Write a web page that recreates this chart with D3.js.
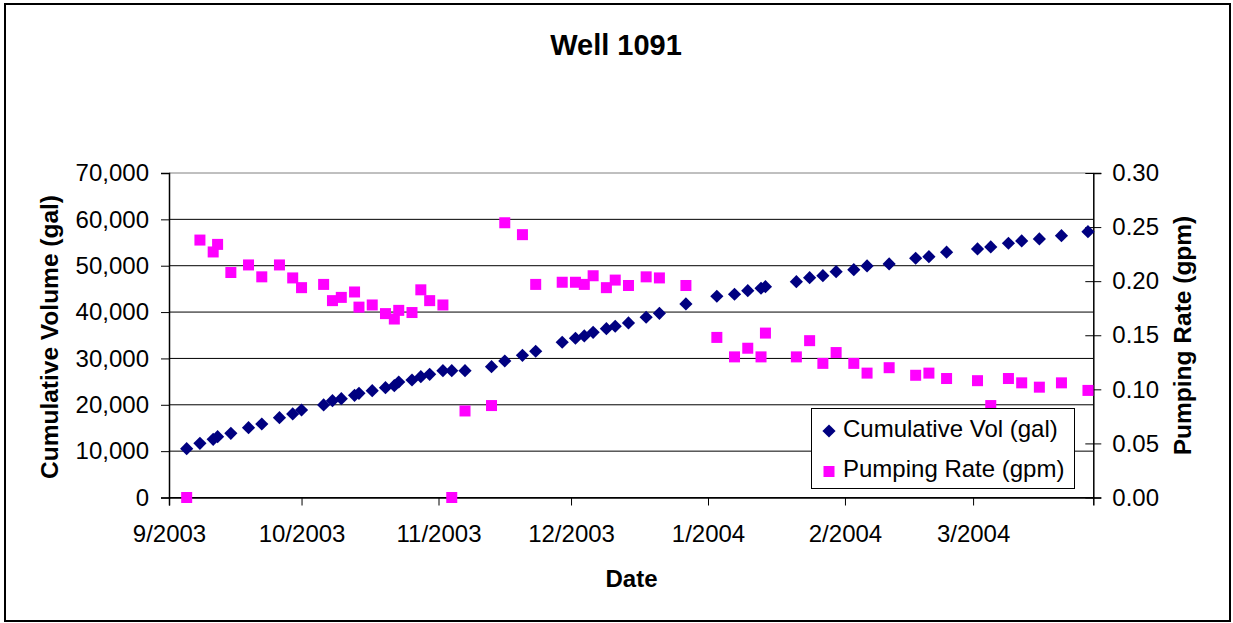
<!DOCTYPE html>
<html>
<head>
<meta charset="utf-8">
<script src="https://cdn.jsdelivr.net/npm/d3@7"></script>
<style>
  body { margin: 0; background: #fff; }
  svg { display: block; font-family: "Liberation Sans", Arial, sans-serif; }
</style>
</head>
<body>
<div id="chart"></div>
<script>
// Sample dates (shared by both series)
const dates = [
  '2003-09-05', '2003-09-08', '2003-09-11', '2003-09-12', '2003-09-15', '2003-09-19',
  '2003-09-22', '2003-09-26', '2003-09-29', '2003-10-01', '2003-10-06', '2003-10-08',
  '2003-10-10', '2003-10-13', '2003-10-14', '2003-10-17', '2003-10-20', '2003-10-22',
  '2003-10-23', '2003-10-26', '2003-10-28', '2003-10-30', '2003-11-02', '2003-11-04',
  '2003-11-07', '2003-11-13', '2003-11-16', '2003-11-20', '2003-11-23', '2003-11-29',
  '2003-12-02', '2003-12-04', '2003-12-06', '2003-12-09', '2003-12-11', '2003-12-14',
  '2003-12-18', '2003-12-21', '2003-12-27', '2004-01-03', '2004-01-07', '2004-01-10',
  '2004-01-13', '2004-01-14', '2004-01-21', '2004-01-24', '2004-01-27', '2004-01-30',
  '2004-02-03', '2004-02-06', '2004-02-11', '2004-02-17', '2004-02-20', '2004-02-24',
  '2004-03-02', '2004-03-05', '2004-03-09', '2004-03-12', '2004-03-16', '2004-03-21',
  '2004-03-27'
];

// Cumulative Vol (gal)
const cumulativeVol = [
  10530, 11690, 12560, 13120, 13850, 15060, 15860, 17220, 18020, 18880, 19960, 20890,
  21320, 22050, 22480, 23040, 23690, 24120, 24920, 25350, 26070, 26580, 27360, 27360,
  27360, 28220, 29450, 30680, 31550, 33490, 34350, 34850, 35640, 36420, 36940, 37650,
  38880, 39740, 41750, 43410, 43840, 44620, 45140, 45480, 46560, 47430, 47860, 48720,
  49150, 49950, 50380, 51610, 51960, 52910, 53620, 54050, 54850, 55350, 55780, 56490,
  57350
];

// Pumping Rate (gpm)
const pumpingRate = [
  0.000, 0.238, 0.227, 0.234, 0.208, 0.215, 0.204, 0.215, 0.203, 0.194, 0.197, 0.182,
  0.185, 0.190, 0.176, 0.178, 0.170, 0.165, 0.173, 0.171, 0.192, 0.182, 0.178, 0.000,
  0.080, 0.085, 0.254, 0.243, 0.197, 0.199, 0.199, 0.197, 0.205, 0.194, 0.201, 0.196,
  0.204, 0.203, 0.196, 0.148, 0.130, 0.138, 0.130, 0.152, 0.130, 0.145, 0.124, 0.134,
  0.124, 0.115, 0.120, 0.113, 0.115, 0.110, 0.108, 0.085, 0.110, 0.106, 0.102, 0.106,
  0.099
];

const xTicks = ['2003-09-01', '2003-10-01', '2003-11-01', '2003-12-01', '2004-01-01', '2004-02-01', '2004-03-01'];
const volTicks = [0, 10000, 20000, 30000, 40000, 50000, 60000, 70000];
const rateTicks = [0, 0.05, 0.10, 0.15, 0.20, 0.25, 0.30];
const seriesNames = ['Cumulative Vol (gal)', 'Pumping Rate (gpm)'];

const width = 1233, height = 623;
const margin = { top: 173, right: 139.7, bottom: 125.5, left: 169 };
const innerW = width - margin.left - margin.right;
const innerH = height - margin.top - margin.bottom;

const parse = d3.utcParse('%Y-%m-%d');
const rows = dates.map((d, i) => ({ date: parse(d), vol: cumulativeVol[i], rate: pumpingRate[i] }));

const x = d3.scaleUtc()
  .domain([parse('2003-09-01'), new Date(Date.UTC(2004, 2, 28, 5))])
  .range([0, innerW]);
const yVol = d3.scaleLinear().domain([0, 70000]).range([innerH, 0]);
const yRate = d3.scaleLinear().domain([0, 0.30]).range([innerH, 0]);

const svg = d3.select('#chart').append('svg')
  .attr('width', width)
  .attr('height', height);

// outer frame
svg.append('rect')
  .attr('x', 5).attr('y', 4)
  .attr('width', 1225).attr('height', 617)
  .attr('fill', '#fff')
  .attr('stroke', '#000')
  .attr('stroke-width', 2);

svg.append('text')
  .attr('x', 616).attr('y', 55)
  .attr('text-anchor', 'middle')
  .style('font-size', '29px').style('font-weight', 'bold')
  .text('Well 1091');

const plot = svg.append('g')
  .attr('transform', `translate(${margin.left},${margin.top})`);

// gridlines
plot.append('g')
  .selectAll('line')
  .data(volTicks)
  .join('line')
  .attr('x1', 0).attr('x2', innerW)
  .attr('y1', d => yVol(d)).attr('y2', d => yVol(d))
  .attr('stroke', d => d === 70000 ? '#808080' : '#000')
  .attr('stroke-width', 1);

// left axis
const leftAxis = plot.append('g')
  .call(d3.axisLeft(yVol).tickValues(volTicks).tickSize(8).tickPadding(12).tickFormat(d3.format(',')));

// right axis, ticks cross the line
const rightAxis = plot.append('g')
  .attr('transform', `translate(${innerW},0)`)
  .call(d3.axisRight(yRate).tickValues(rateTicks).tickSize(8).tickPadding(11).tickFormat(d3.format('.2f')));
rightAxis.selectAll('.tick line').attr('x1', -8);

// bottom axis
const bottomAxis = plot.append('g')
  .attr('transform', `translate(0,${innerH})`)
  .call(d3.axisBottom(x).tickValues(xTicks.map(parse)).tickSize(8).tickPadding(19.5).tickFormat(d3.utcFormat('%-m/%Y')));

[leftAxis, rightAxis, bottomAxis].forEach(a => {
  a.selectAll('path.domain').attr('stroke', '#000').attr('stroke-width', 1.5);
  a.selectAll('.tick line').attr('stroke', '#000');
  a.selectAll('text').attr('fill', '#000').style('font-size', '24px').style('font-family', '"Liberation Sans", Arial, sans-serif');
});

// axis titles
svg.append('text')
  .attr('transform', 'translate(58,337) rotate(-90)')
  .attr('text-anchor', 'middle')
  .style('font-size', '24.5px').style('font-weight', 'bold')
  .text('Cumulative Volume (gal)');

svg.append('text')
  .attr('transform', 'translate(1191,335.5) rotate(-90)')
  .attr('text-anchor', 'middle')
  .style('font-size', '24.5px').style('font-weight', 'bold')
  .text('Pumping Rate (gpm)');

svg.append('text')
  .attr('x', 631.5).attr('y', 586.5)
  .attr('text-anchor', 'middle')
  .style('font-size', '24px').style('font-weight', 'bold')
  .text('Date');

// markers
const diamond = 'M0,-6.6L6.6,0L0,6.6L-6.6,0Z';
const sq = 11;

plot.append('g')
  .selectAll('path')
  .data(rows)
  .join('path')
  .attr('d', diamond)
  .attr('transform', d => `translate(${x(d.date)},${yVol(d.vol)})`)
  .attr('fill', '#000080');

plot.append('g')
  .selectAll('rect')
  .data(rows)
  .join('rect')
  .attr('x', d => x(d.date) - sq / 2)
  .attr('y', d => yRate(d.rate) - sq / 2)
  .attr('width', sq).attr('height', sq)
  .attr('fill', '#ff00ff');

// legend
const legend = svg.append('g').attr('transform', 'translate(811.5,408.5)');
legend.append('rect')
  .attr('width', 263).attr('height', 80)
  .attr('fill', '#fff').attr('stroke', '#000').attr('stroke-width', 1);

const items = legend.selectAll('g.item')
  .data(seriesNames)
  .join('g')
  .attr('class', 'item')
  .attr('transform', (d, i) => `translate(0,${22.5 + i * 40.5})`);

items.filter((d, i) => i === 0).append('path')
  .attr('d', diamond)
  .attr('transform', 'translate(17.5,0)')
  .attr('fill', '#000080');
items.filter((d, i) => i === 1).append('rect')
  .attr('x', 17.5 - sq / 2).attr('y', -sq / 2).attr('width', sq).attr('height', sq)
  .attr('fill', '#ff00ff');

items.append('text')
  .attr('x', 31.5).attr('y', 5.5)
  .style('font-size', '24px')
  .text(d => d);
</script>
</body>
</html>
